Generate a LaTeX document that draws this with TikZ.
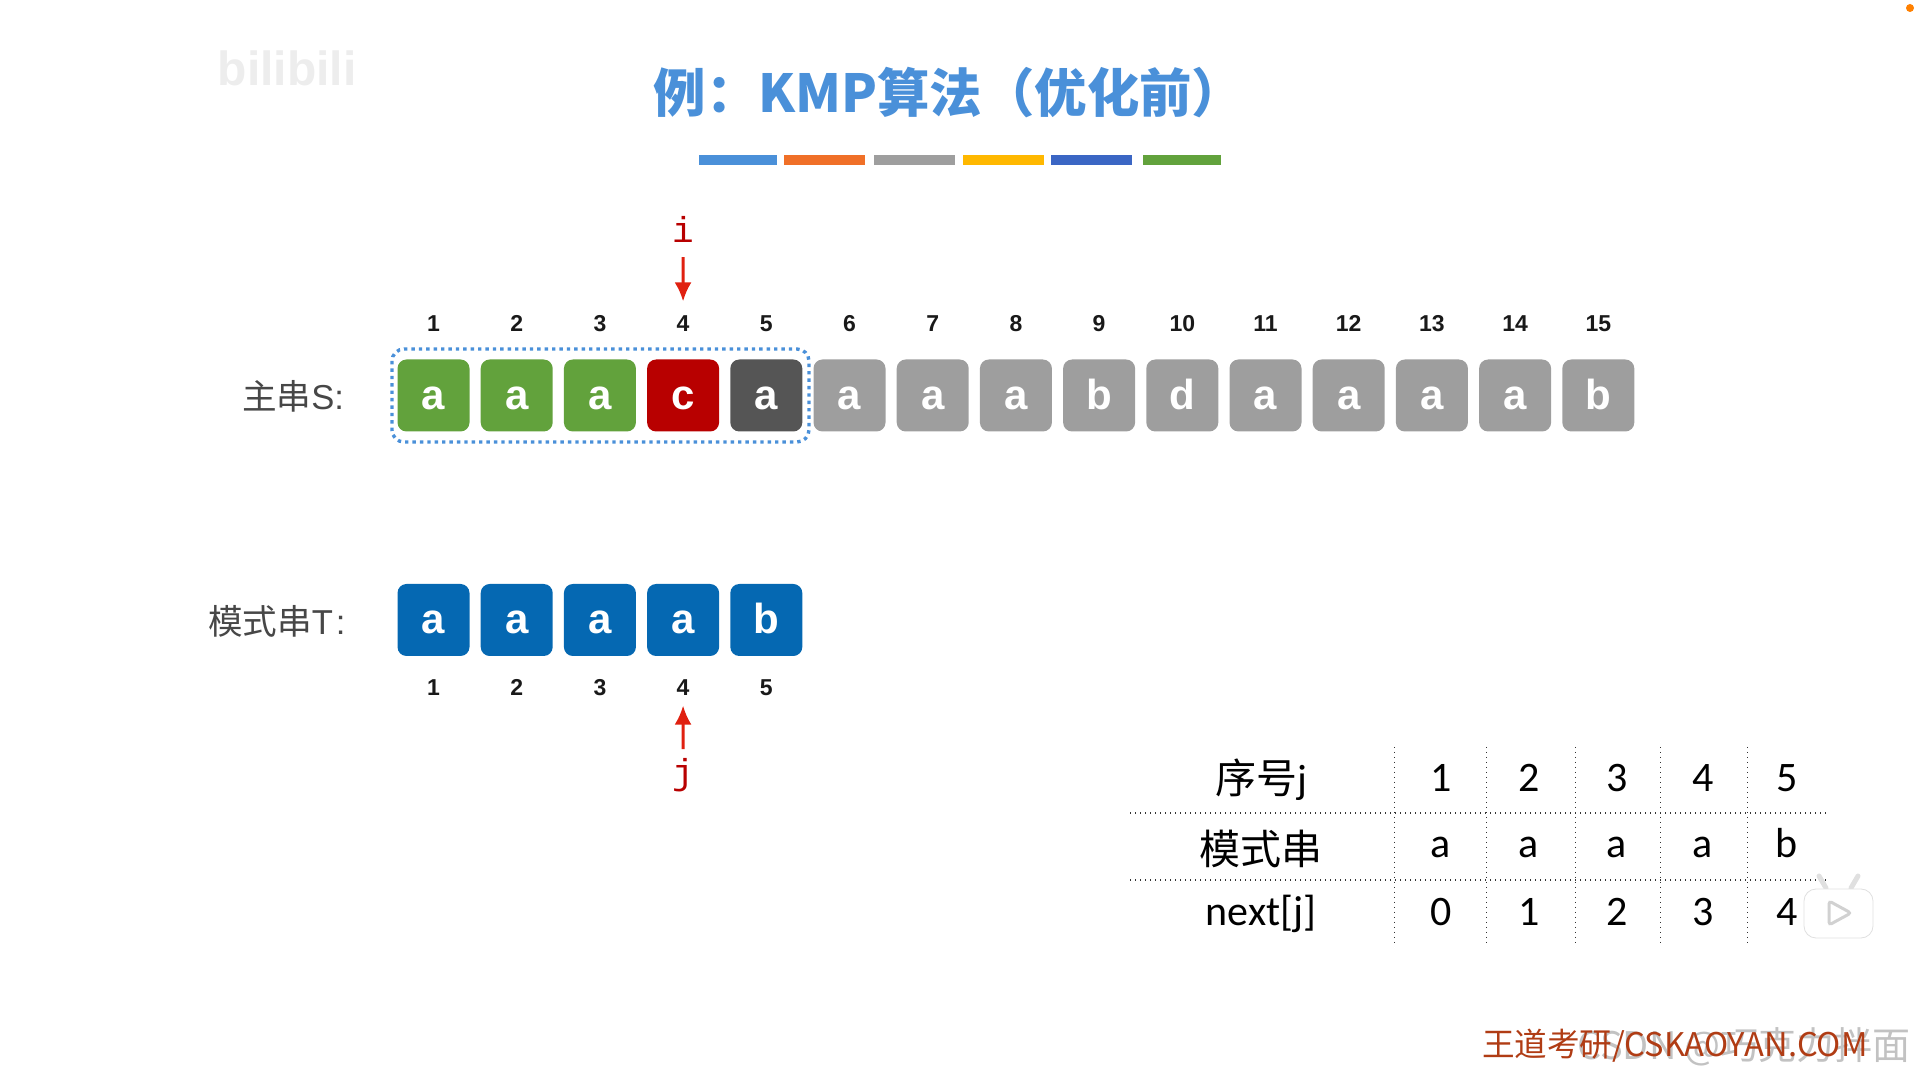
\documentclass[tikz,border=0pt]{standalone}
\usepackage{fontspec}
\usepackage{xcolor}
\usetikzlibrary{arrows.meta}
\setmainfont{Liberation Sans}
\newfontfamily\cjk{Noto Sans CJK SC}
\newfontfamily\tablefont{Carlito}
\newfontfamily\ptrfont{Liberation Mono}
\definecolor{kmpblue}{HTML}{4A90D9}
\definecolor{kmporange}{HTML}{F07028}
\definecolor{kmpgray}{HTML}{9E9E9E}
\definecolor{kmpyellow}{HTML}{FFB800}
\definecolor{kmpindigo}{HTML}{3B66C4}
\definecolor{kmpgreen}{HTML}{62A23C}
\definecolor{kmpred}{HTML}{B80000}
\definecolor{kmpdark}{HTML}{555555}
\definecolor{kmpsea}{HTML}{0568B2}
\definecolor{kmparrow}{HTML}{E02010}
\definecolor{kmpfoot}{HTML}{B03C14}
\tikzset{
  charbox/.style={rectangle, rounded corners=4.5pt, minimum width=36pt, minimum height=36pt,
    inner sep=0pt, text=white, text height=14pt, text depth=0pt, font=\fontsize{21}{21}\selectfont\bfseries},
  idxnum/.style={text height=8.5pt, text depth=0pt, font=\fontsize{11.5}{12}\selectfont\bfseries, text=black!90},
  rowlabel/.style={anchor=west, text=black!72, font=\fontsize{17.3}{18}\selectfont\cjk},
  ptrlabel/.style={text=kmpred, font=\fontsize{18}{18}\selectfont\ptrfont},
  ptrarrow/.style={draw=kmparrow, line width=1.5pt, -{Latex[length=9.5pt,width=8.5pt]}},
  tablecell/.style={font=\fontsize{21}{22}\selectfont\tablefont, text=black},
  tablehead/.style={font=\fontsize{20.5}{22}\selectfont\cjk, text=black},
  tablerule/.style={black!80, line width=0.5pt, dotted}
}
\begin{document}
\begin{tikzpicture}[x=0.5pt, y=-0.5pt]
  \useasboundingbox (0,0) rectangle (1919,1079);
  % faint marks of the video
  \node[text=black!7, font=\fontsize{24}{24}\selectfont\bfseries] (bililogo) at (287,68) {bilibili};
  \fill[orange] (1910,8) circle (2pt);
  % title
  \node[text=kmpblue, font=\fontsize{26.2}{27}\selectfont\cjk\bfseries] (title) at (949,93) {例：KMP算法（优化前）};
  \foreach \xa/\xb/\c in {699/777/kmpblue,784/865/kmporange,874/955/kmpgray,963/1044/kmpyellow,1051/1132/kmpindigo,1143/1221/kmpgreen}
    \fill[\c] (\xa,155) rectangle (\xb,165);
  % main string
  \node[rowlabel] (slabel) at (235,396) {主串{\rmfamily S:}};
  \foreach \ch/\c [count=\n] in {a/kmpgreen,a/kmpgreen,a/kmpgreen,c/kmpred,a/kmpdark,a/kmpgray,a/kmpgray,a/kmpgray,b/kmpgray,d/kmpgray,a/kmpgray,a/kmpgray,a/kmpgray,a/kmpgray,b/kmpgray} {
    \node[charbox, fill=\c] (s\n) at ({433.5+83.2*(\n-1)},395.5) {\ch};
    \node[idxnum] (snum\n) at ({433.5+83.2*(\n-1)},323) {\n};
  }
  \draw[kmpblue, line width=1.7pt, dotted, rounded corners=6pt] (392,349) rectangle (809,442);
  % pattern
  \node[rowlabel] (tlabel) at (201,621) {模式串{\rmfamily T\kern1.5pt:}};
  \foreach \ch [count=\n] in {a,a,a,a,b} {
    \node[charbox, fill=kmpsea] (t\n) at ({433.5+83.2*(\n-1)},620) {\ch};
    \node[idxnum] (tnum\n) at ({433.5+83.2*(\n-1)},687) {\n};
  }
  % pointers
  \node[ptrlabel] (ilabel) at (683,229) {i};
  \node[ptrlabel] (jlabel) at (683,775) {j};
  \draw[ptrarrow, shorten <=4pt, shorten >=3pt] (ilabel.south) -- (snum4.north);
  \draw[ptrarrow, shorten <=1pt, shorten >=1.5pt] (jlabel.north) -- (tnum4.south);
  % next table
  \foreach \y in {813,880} \draw[tablerule, line width=0.7pt] (1130,\y) -- (1829,\y);
  \foreach \x in {1394,1486,1575,1660,1747} \draw[tablerule] (\x,747) -- (\x,945);
  \node[tablehead] (head1) at (1261,780) {序号\tablefont j};
  \node[tablehead] (head2) at (1261,849) {模式串};
  \node[tablecell] (head3) at (1261,914) {next[j]};
  \foreach \x/\p/\q/\r [count=\n] in {1441/1/a/0,1529/2/a/1,1617/3/a/2,1703/4/a/3,1787/5/b/4} {
    \node[tablecell] (seq\n) at (\x,778) {\p};
    \node[tablecell, anchor=base] (pat\n) at (\x,858) {\q};
    \node[tablecell] (nxt\n) at (\x,912) {\r};
  }
  % play badge
  \draw[white!88!black, line width=2.5pt, line cap=round] (1826,888) -- (1819,876) (1851,888) -- (1858,876);
  \draw[black!12, fill=white, rounded corners=6pt] (1804,889) rectangle (1873,938);
  \draw[black!18, fill=white, line width=1.5pt, rounded corners=1.5pt] (1829,901) -- (1851,913) -- (1829,925) -- cycle;
  % footer
  \node[text=black!24, anchor=east, font=\fontsize{19}{20}\selectfont\cjk] (csdn) at (1918,1047) {CSDN @巧克力拌面};
  \node[text=kmpfoot, anchor=west, font=\fontsize{16.3}{17}\selectfont\cjk] (foot) at (1475,1046) {王道考研/CSKAOYAN.COM};
\end{tikzpicture}
\end{document}
